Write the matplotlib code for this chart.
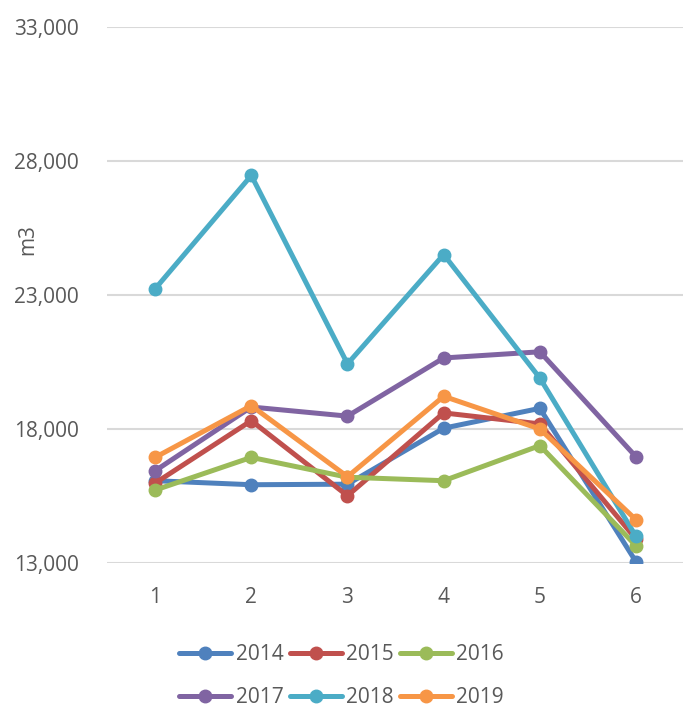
import matplotlib.pyplot as plt
from matplotlib.ticker import FuncFormatter

plt.rcParams['font.family'] = ['Open Sans', 'DejaVu Sans']

# Data
months = [1, 2, 3, 4, 5, 6]
years = ['2014', '2015', '2016', '2017', '2018', '2019']
v2014 = [16070, 15920, 15940, 18030, 18770, 13040]
v2015 = [15980, 18310, 15510, 18600, 18190, 13890]
v2016 = [15720, 16940, 16200, 16070, 17380, 13640]
v2017 = [16440, 18820, 18480, 20650, 20880, 16960]
v2018 = [23230, 27460, 20430, 24510, 19900, 13990]
v2019 = [16940, 18870, 16220, 19220, 18000, 14610]
series = [v2014, v2015, v2016, v2017, v2018, v2019]
colors = ['#4F81BD', '#C0504D', '#9BBB59', '#8064A2', '#4BACC6', '#F79646']

text_col = '#595959'

fig = plt.figure(figsize=(6.83, 7.18), dpi=100)
ax = fig.add_axes([0.1567, 0.2159, 0.845, 0.7465])

for yr, vals, c in zip(years, series, colors):
    ax.plot(months, vals, color=c, lw=3.6, marker='o', markersize=9,
            solid_capstyle='round', label=yr)

ax.set_xlim(0.5, 6.5)
ax.set_ylim(13000, 33000)
ax.set_yticks([13000, 18000, 23000, 28000, 33000])
ax.set_xticks(months)
ax.yaxis.set_major_formatter(FuncFormatter(lambda v, p: f'{int(v):,}'))
ax.grid(axis='y', color='#d9d9d9', lw=1.5)
ax.set_axisbelow(True)
for s in ax.spines.values():
    s.set_visible(False)
ax.tick_params(length=0, labelsize=15, colors=text_col)
ax.tick_params(axis='x', pad=17)
ax.tick_params(axis='y', pad=20)

fig.text(28 / 683, 1 - 240 / 718, 'm3', rotation=90, ha='center', va='center',
         fontsize=15, color=text_col)

# legend filled row by row (matplotlib fills column-wise)
h, l = ax.get_legend_handles_labels()
order = [0, 3, 1, 4, 2, 5]
fig.legend([h[i] for i in order], [l[i] for i in order],
           loc='center', bbox_to_anchor=(0.5, 1 - 676 / 718), ncol=3,
           frameon=False, fontsize=15, handlelength=2.5, handletextpad=0.2,
           columnspacing=0.3, labelspacing=1.05, labelcolor=text_col)

fig.savefig('out.png', dpi=100)
